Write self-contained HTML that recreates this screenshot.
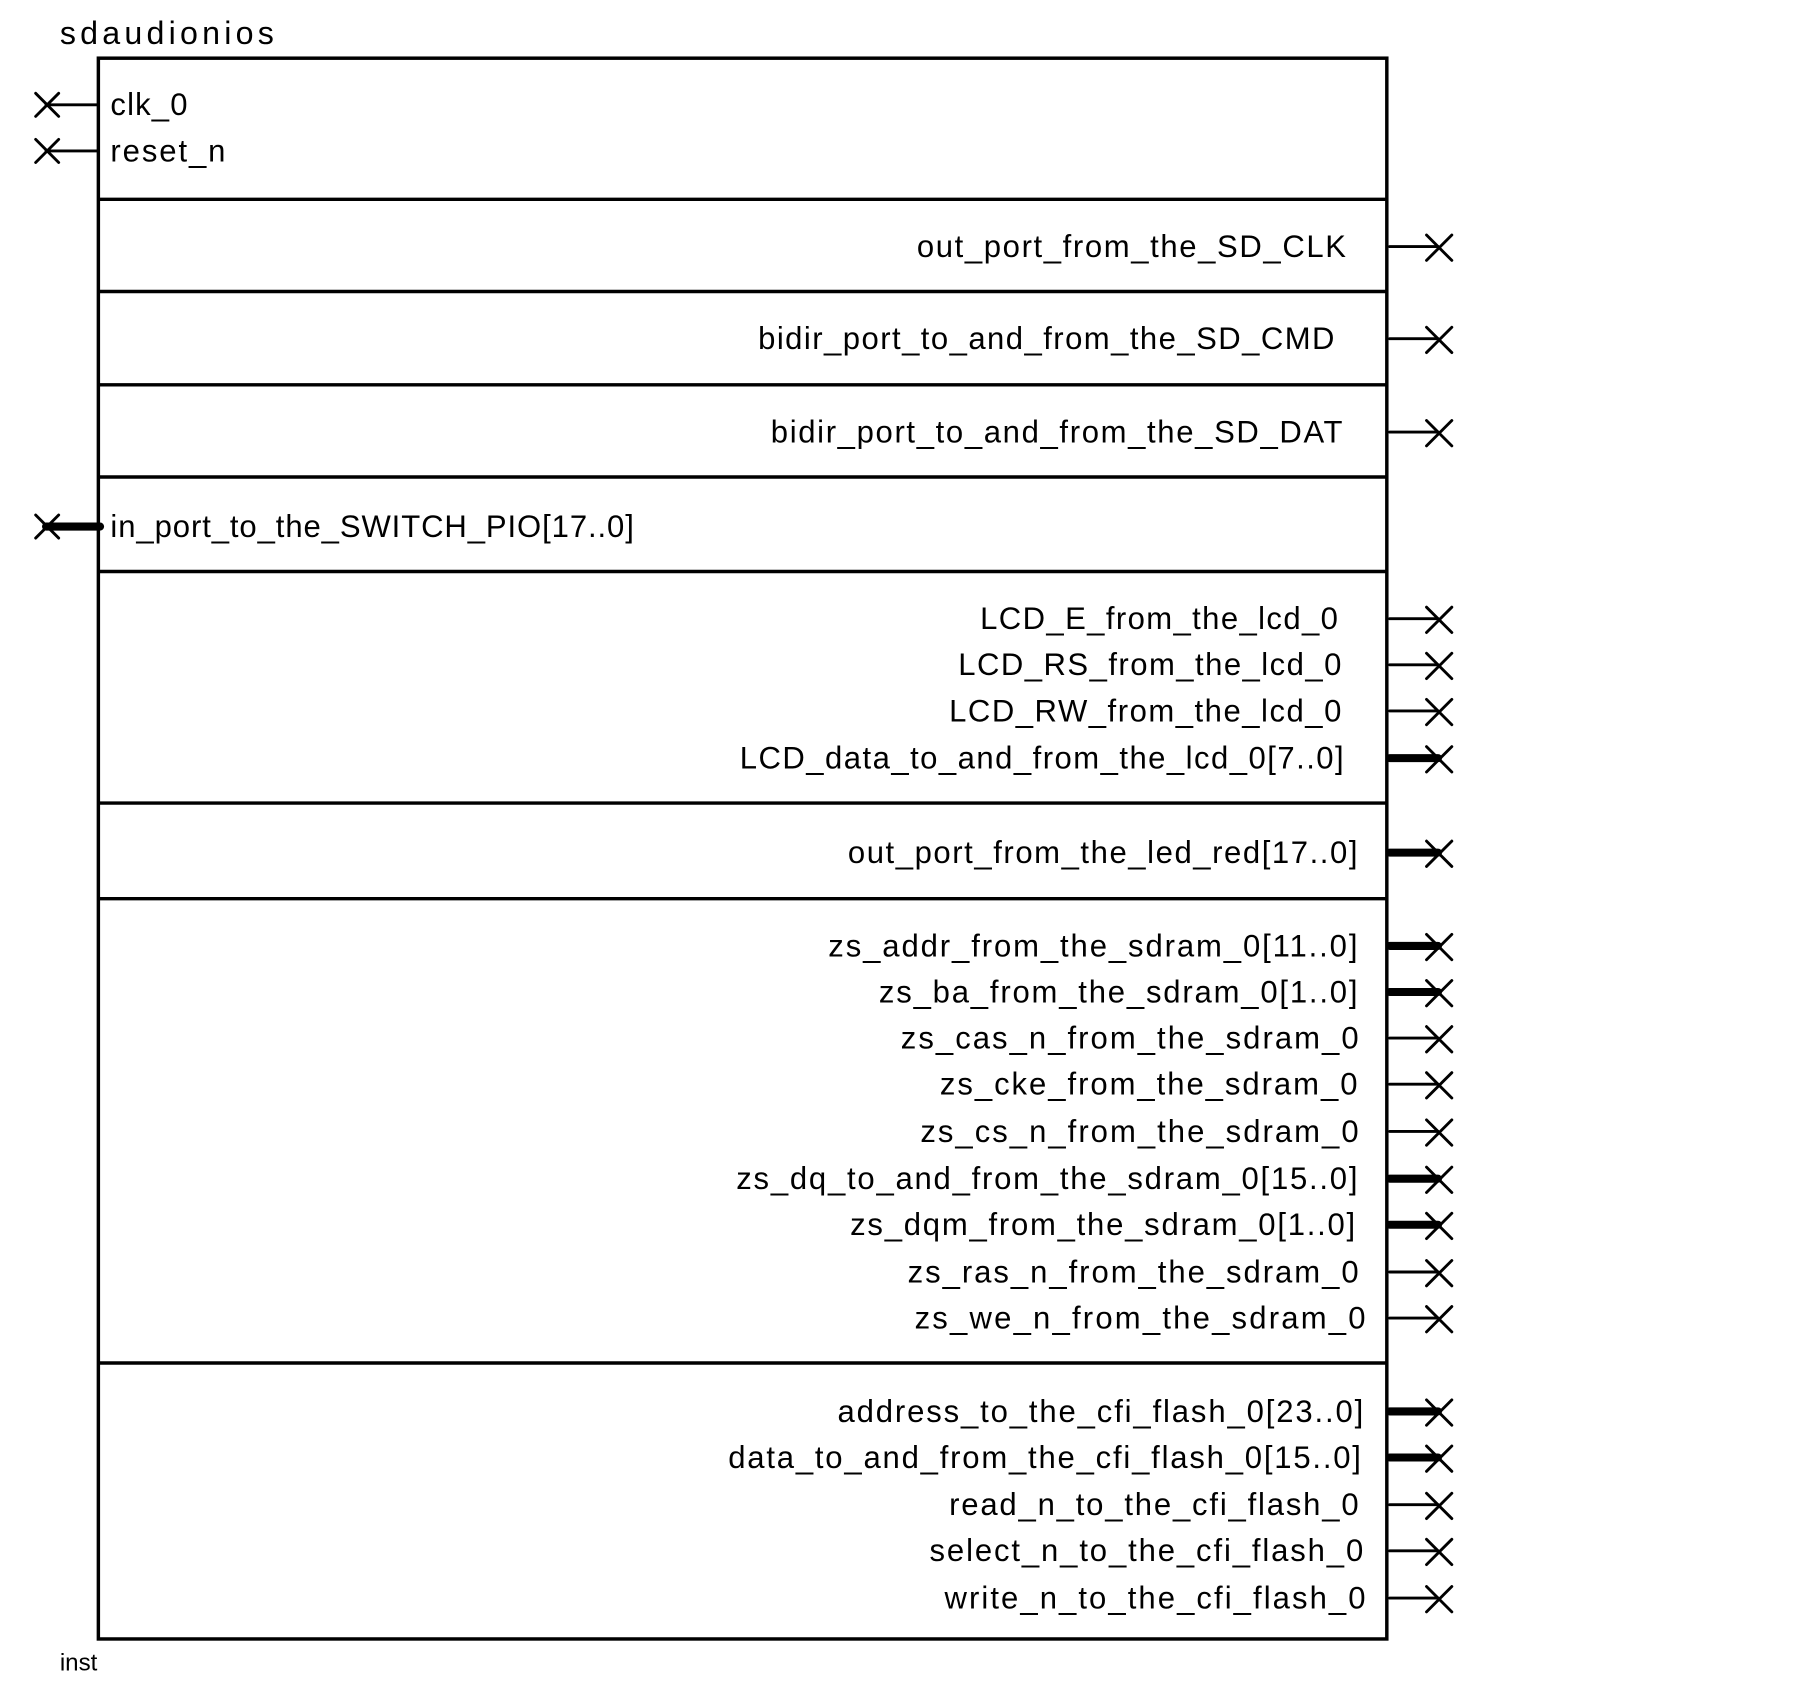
<!DOCTYPE html>
<html><head><meta charset="utf-8"><style>html,body{margin:0;padding:0;background:#fff}svg{display:block}</style></head>
<body>
<svg width="1805" height="1696" viewBox="0 0 1569 1472" preserveAspectRatio="none" xmlns="http://www.w3.org/2000/svg" font-family="Liberation Sans, Arial, sans-serif" font-size="27" fill="#000">
<rect x="0" y="0" width="1569" height="1472" fill="#fff"/>
<text x="52" y="38" font-size="28" textLength="186" lengthAdjust="spacing">sdaudionios</text>
<text x="52" y="1450" font-size="21">inst</text>
<rect x="85.5" y="50.5" width="1120" height="1372" fill="none" stroke="#000" stroke-width="3"/>
<g stroke="#000" stroke-width="3">
<line x1="85" y1="173" x2="1205" y2="173"/><line x1="85" y1="253" x2="1205" y2="253"/>
<line x1="85" y1="334" x2="1205" y2="334"/><line x1="85" y1="414" x2="1205" y2="414"/>
<line x1="85" y1="496" x2="1205" y2="496"/><line x1="85" y1="697" x2="1205" y2="697"/>
<line x1="85" y1="780" x2="1205" y2="780"/><line x1="85" y1="1183" x2="1205" y2="1183"/>
</g>
<g stroke="#000" stroke-width="2.5" stroke-linecap="round">
<line x1="40" y1="91" x2="85" y2="91"/><path d="M31 81L51 101M31 101L51 81"/>
<line x1="40" y1="131" x2="85" y2="131"/><path d="M31 121L51 141M31 141L51 121"/>
<line x1="40" y1="457" x2="87" y2="457" stroke-width="7"/><path d="M31 447L51 467M31 467L51 447"/>
</g>
<g>
<text x="96" y="100" textLength="67" lengthAdjust="spacing">clk_0</text>
<text x="96" y="140" textLength="100" lengthAdjust="spacing">reset_n</text>
<text x="96" y="466" textLength="455" lengthAdjust="spacing">in_port_to_the_SWITCH_PIO[17..0]</text>
</g>
<g stroke="#000" stroke-width="2.5" stroke-linecap="round" fill="none">
<line x1="1208" y1="214" x2="1250" y2="214"/><path d="M1240 204L1262 226M1240 226L1262 204"/>
<line x1="1208" y1="294" x2="1250" y2="294"/><path d="M1240 284L1262 306M1240 306L1262 284"/>
<line x1="1208" y1="375" x2="1250" y2="375"/><path d="M1240 365L1262 387M1240 387L1262 365"/>
<line x1="1208" y1="537" x2="1250" y2="537"/><path d="M1240 527L1262 549M1240 549L1262 527"/>
<line x1="1208" y1="577" x2="1250" y2="577"/><path d="M1240 567L1262 589M1240 589L1262 567"/>
<line x1="1208" y1="617" x2="1250" y2="617"/><path d="M1240 607L1262 629M1240 629L1262 607"/>
<line x1="1208" y1="658" x2="1250" y2="658" stroke-width="7"/><path d="M1240 648L1262 670M1240 670L1262 648"/>
<line x1="1208" y1="740" x2="1250" y2="740" stroke-width="7"/><path d="M1240 730L1262 752M1240 752L1262 730"/>
<line x1="1208" y1="821" x2="1250" y2="821" stroke-width="7"/><path d="M1240 811L1262 833M1240 833L1262 811"/>
<line x1="1208" y1="861" x2="1250" y2="861" stroke-width="7"/><path d="M1240 851L1262 873M1240 873L1262 851"/>
<line x1="1208" y1="901" x2="1250" y2="901"/><path d="M1240 891L1262 913M1240 913L1262 891"/>
<line x1="1208" y1="941" x2="1250" y2="941"/><path d="M1240 931L1262 953M1240 953L1262 931"/>
<line x1="1208" y1="982" x2="1250" y2="982"/><path d="M1240 972L1262 994M1240 994L1262 972"/>
<line x1="1208" y1="1023" x2="1250" y2="1023" stroke-width="7"/><path d="M1240 1013L1262 1035M1240 1035L1262 1013"/>
<line x1="1208" y1="1063" x2="1250" y2="1063" stroke-width="7"/><path d="M1240 1053L1262 1075M1240 1075L1262 1053"/>
<line x1="1208" y1="1104" x2="1250" y2="1104"/><path d="M1240 1094L1262 1116M1240 1116L1262 1094"/>
<line x1="1208" y1="1144" x2="1250" y2="1144"/><path d="M1240 1134L1262 1156M1240 1156L1262 1134"/>
<line x1="1208" y1="1225" x2="1250" y2="1225" stroke-width="7"/><path d="M1240 1215L1262 1237M1240 1237L1262 1215"/>
<line x1="1208" y1="1265" x2="1250" y2="1265" stroke-width="7"/><path d="M1240 1255L1262 1277M1240 1277L1262 1255"/>
<line x1="1208" y1="1306" x2="1250" y2="1306"/><path d="M1240 1296L1262 1318M1240 1318L1262 1296"/>
<line x1="1208" y1="1346" x2="1250" y2="1346"/><path d="M1240 1336L1262 1358M1240 1358L1262 1336"/>
<line x1="1208" y1="1387" x2="1250" y2="1387"/><path d="M1240 1377L1262 1399M1240 1399L1262 1377"/>
</g>
<g>
<text x="797" y="223" textLength="373" lengthAdjust="spacing">out_port_from_the_SD_CLK</text>
<text x="659" y="303" textLength="501" lengthAdjust="spacing">bidir_port_to_and_from_the_SD_CMD</text>
<text x="670" y="384" textLength="497" lengthAdjust="spacing">bidir_port_to_and_from_the_SD_DAT</text>
<text x="852" y="546" textLength="311" lengthAdjust="spacing">LCD_E_from_the_lcd_0</text>
<text x="833" y="586" textLength="333" lengthAdjust="spacing">LCD_RS_from_the_lcd_0</text>
<text x="825" y="626" textLength="341" lengthAdjust="spacing">LCD_RW_from_the_lcd_0</text>
<text x="643" y="667" textLength="525" lengthAdjust="spacing">LCD_data_to_and_from_the_lcd_0[7..0]</text>
<text x="737" y="749" textLength="443" lengthAdjust="spacing">out_port_from_the_led_red[17..0]</text>
<text x="720" y="830" textLength="460" lengthAdjust="spacing">zs_addr_from_the_sdram_0[11..0]</text>
<text x="764" y="870" textLength="416" lengthAdjust="spacing">zs_ba_from_the_sdram_0[1..0]</text>
<text x="783" y="910" textLength="398" lengthAdjust="spacing">zs_cas_n_from_the_sdram_0</text>
<text x="817" y="950" textLength="363" lengthAdjust="spacing">zs_cke_from_the_sdram_0</text>
<text x="800" y="991" textLength="381" lengthAdjust="spacing">zs_cs_n_from_the_sdram_0</text>
<text x="640" y="1032" textLength="540" lengthAdjust="spacing">zs_dq_to_and_from_the_sdram_0[15..0]</text>
<text x="739" y="1072" textLength="439" lengthAdjust="spacing">zs_dqm_from_the_sdram_0[1..0]</text>
<text x="789" y="1113" textLength="392" lengthAdjust="spacing">zs_ras_n_from_the_sdram_0</text>
<text x="795" y="1153" textLength="392" lengthAdjust="spacing">zs_we_n_from_the_sdram_0</text>
<text x="728" y="1234" textLength="457" lengthAdjust="spacing">address_to_the_cfi_flash_0[23..0]</text>
<text x="633" y="1274" textLength="550" lengthAdjust="spacing">data_to_and_from_the_cfi_flash_0[15..0]</text>
<text x="825" y="1315" textLength="356" lengthAdjust="spacing">read_n_to_the_cfi_flash_0</text>
<text x="808" y="1355" textLength="377" lengthAdjust="spacing">select_n_to_the_cfi_flash_0</text>
<text x="821" y="1396" textLength="366" lengthAdjust="spacing">write_n_to_the_cfi_flash_0</text>
</g>
</svg>
</body></html>
